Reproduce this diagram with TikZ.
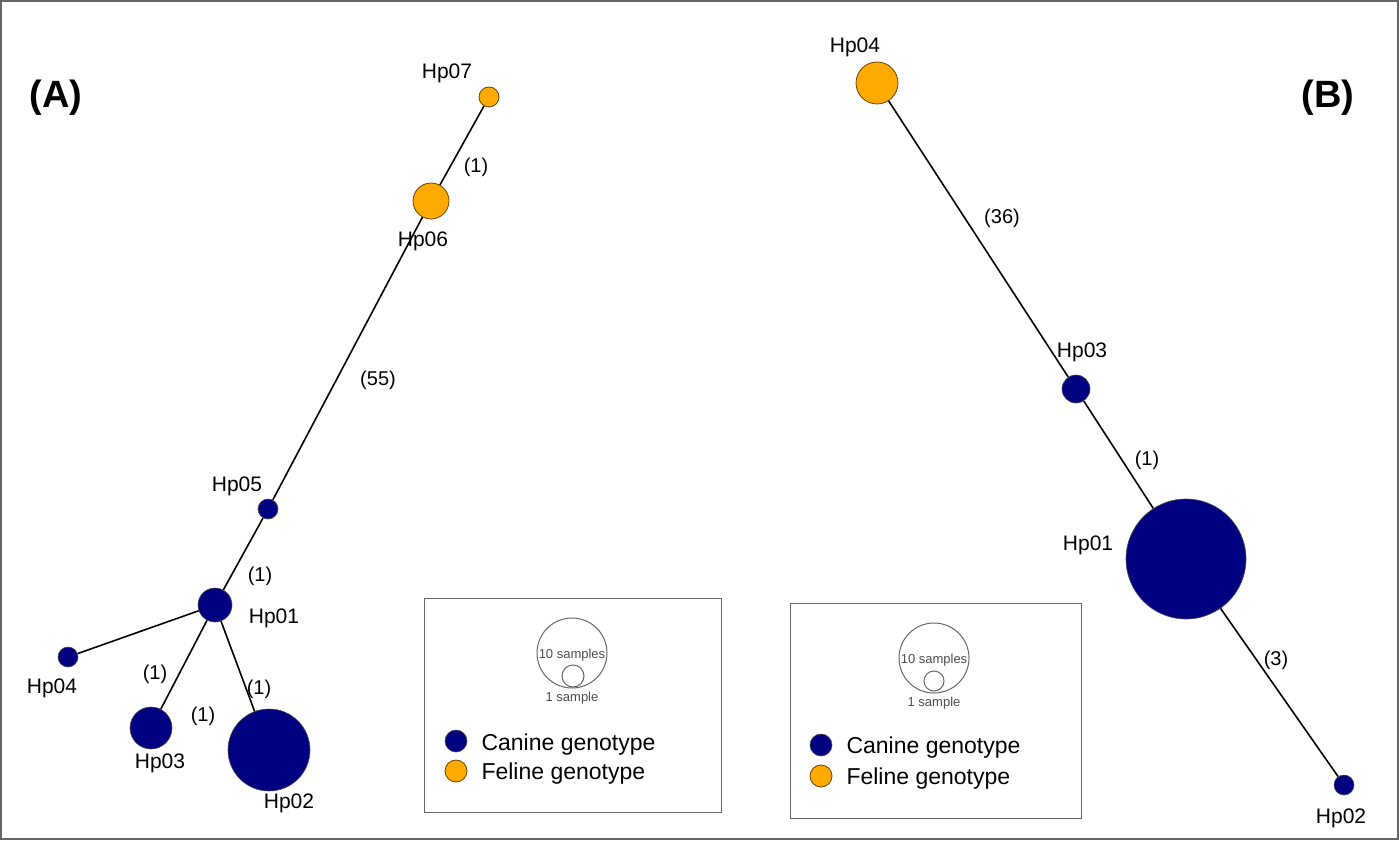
\documentclass[tikz,border=0pt]{standalone}
\usepackage{fontspec}
\setmainfont{Liberation Sans}
\definecolor{can}{RGB}{0,0,128}
\definecolor{fel}{RGB}{255,170,0}
\begin{document}
\begin{tikzpicture}[x=1pt,y=-1pt,
 c/.style={circle,fill=can,draw=black!70,line width=0.6pt,inner sep=0pt,minimum size=#1},
 f/.style={circle,fill=fel,draw=black!60!fel,line width=0.8pt,inner sep=0pt,minimum size=#1},
 lab/.style={font=\fontsize{21}{22}\selectfont},
 el/.style={font=\fontsize{20}{22}\selectfont},
 edge/.style={line width=1.6pt},
 box/.style={draw=black!60,line width=1pt},
 sm/.style={font=\fontsize{13}{13}\selectfont,text=black!70},
 leg/.style={font=\fontsize{23}{24}\selectfont,anchor=west}]
\useasboundingbox (0,0) rectangle (1399,840);
\draw[black!60,line width=1.5pt] (1,1) rectangle (1398,839);
\node[font=\fontsize{38}{40}\selectfont\bfseries] (LA) at (56,98) {(A)};
\node[font=\fontsize{38}{40}\selectfont\bfseries] (LB) at (1328,98) {(B)};
% A
\node[f=20pt] (a7) at (489,97) {};
\node[f=36pt] (a6) at (431,201) {};
\node[c=20pt] (a5) at (268,509) {};
\node[c=34pt] (a1) at (215,605) {};
\node[c=20pt] (a4) at (68,657) {};
\node[c=42pt] (a3) at (151,728) {};
\node[c=82pt] (a2) at (269,750) {};
\draw[edge] (a7)--(a6) (a6)--(a5) (a5)--(a1) (a1)--(a4) (a1)--(a3) (a1)--(a2);
\node[lab] (t7) at (447,73) {Hp07};
\node[lab] (t6) at (423,241) {Hp06};
\node[lab] (t5) at (237,486) {Hp05};
\node[lab] (t1) at (274,618) {Hp01};
\node[lab] (t4) at (52,688) {Hp04};
\node[lab] (t3) at (160,763) {Hp03};
\node[lab] (t2) at (289,803) {Hp02};
\node[el] (e1) at (476,167) {(1)};
\node[el] (e2) at (378,380) {(55)};
\node[el] (e3) at (260,576) {(1)};
\node[el] (e4) at (155,674) {(1)};
\node[el] (e5) at (203,716) {(1)};
\node[el] (e6) at (259,689) {(1)};
% B
\node[f=42pt] (b4) at (877,83) {};
\node[c=28pt] (b3) at (1076,389) {};
\node[c=120pt] (b1) at (1186,559) {};
\node[c=20pt] (b2) at (1344,785) {};
\draw[edge] (b4)--(b3) (b3)--(b1) (b1)--(b2);
\node[lab] (u4) at (855,47) {Hp04};
\node[lab] (u3) at (1082,352) {Hp03};
\node[lab] (u1) at (1088,545) {Hp01};
\node[lab] (u2) at (1341,818) {Hp02};
\node[el] (f1) at (1002,218) {(36)};
\node[el] (f2) at (1147,460) {(1)};
\node[el] (f3) at (1276,660) {(3)};
% legends
\node[box,minimum width=297pt,minimum height=214pt] (L1) at (572.5,705) {};
\draw[black!60,line width=1pt] (572,653) circle (35);
\draw[black!60,line width=1pt] (573,676) circle (11);
\node[sm] (s1) at (572,655) {10 samples};
\node[sm] (s2) at (572,698) {1 sample};
\node[c=22pt] (d1) at (456,741) {};
\node[f=22pt] (d2) at (456,771) {};
\node[leg] (g1) at (478,745) {Canine genotype};
\node[leg] (g2) at (478,774) {Feline genotype};
\node[box,minimum width=291pt,minimum height=215pt] (L2) at (935.5,710.5) {};
\draw[black!60,line width=1pt] (934,658) circle (35);
\draw[black!60,line width=1pt] (934,681) circle (10);
\node[sm] (s3) at (934,660) {10 samples};
\node[sm] (s4) at (934,703) {1 sample};
\node[c=22pt] (d3) at (821,745) {};
\node[f=22pt] (d4) at (821,776) {};
\node[leg] (g3) at (843,748) {Canine genotype};
\node[leg] (g4) at (843,779) {Feline genotype};
\end{tikzpicture}
\end{document}
